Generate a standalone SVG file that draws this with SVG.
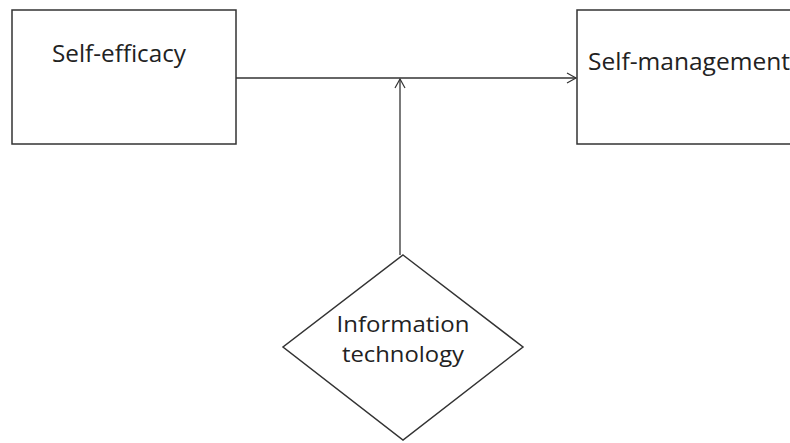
<svg xmlns="http://www.w3.org/2000/svg" width="790" height="443" viewBox="0 0 790 443">
<defs>
<marker id="arr" markerWidth="12" markerHeight="12" refX="10" refY="6" orient="auto" markerUnits="userSpaceOnUse">
<path d="M1,1 L10,6 L1,11" fill="none" stroke="#333" stroke-width="1.2"/>
</marker>
</defs>
<style>
.box{fill:#fff;stroke:#333;stroke-width:1.5}
.t{font-family:"Open Sans","Noto Sans",sans-serif;font-size:24px;fill:#222}
.d{font-size:22px}
.c{fill:none;stroke:#333;stroke-width:1.3}
</style>
<rect width="790" height="443" fill="#fff"/>
<g id="self-efficacy">
<rect class="box" x="12" y="10" width="224" height="134"/>
<text class="t" x="52" y="62" textLength="134" lengthAdjust="spacingAndGlyphs">Self-efficacy</text>
</g>
<g id="self-management">
<rect class="box" x="577" y="10" width="230" height="134"/>
<text class="t" x="588" y="70" textLength="202" lengthAdjust="spacingAndGlyphs">Self-management</text>
</g>
<g id="information-technology">
<polygon class="box" points="403,255 523,347 403,440 283,347"/>
<text class="t d" x="403" y="332" text-anchor="middle" textLength="133" lengthAdjust="spacingAndGlyphs">Information</text>
<text class="t d" x="403" y="362" text-anchor="middle" textLength="122" lengthAdjust="spacingAndGlyphs">technology</text>
</g>
<g id="connectors">
<line class="c" x1="236" y1="78" x2="576" y2="78" marker-end="url(#arr)"/>
<line class="c" x1="400" y1="255" x2="400" y2="79" marker-end="url(#arr)"/>
</g>
</svg>
